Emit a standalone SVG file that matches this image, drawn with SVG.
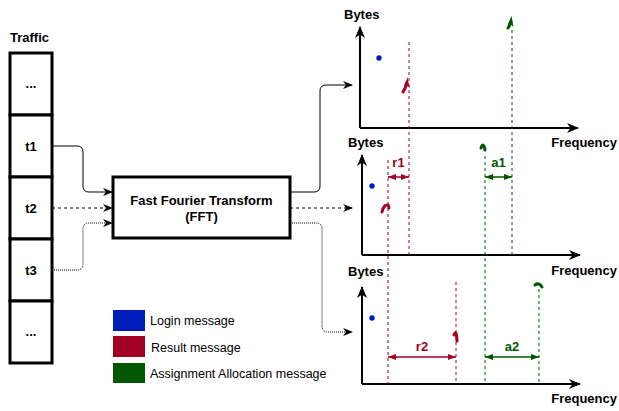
<svg xmlns="http://www.w3.org/2000/svg" width="619" height="411" viewBox="0 0 619 411">
  <defs>
    <style>
      text { font-family: "Liberation Sans", Arial, sans-serif; fill: #000; }
      .b { font-weight: bold; font-size: 13px; }
      .lg { font-size: 12.5px; }
      .cell { fill: #fff; stroke: #000; stroke-width: 3; }
      .conn { fill: none; stroke: #000; stroke-width: 1; }
      .dash { stroke-dasharray: 3 3; }
      .dot { stroke-dasharray: 1 1; }
      .axis { fill: none; stroke: #000; stroke-width: 2; }
      .red { stroke: #A20025; }
      .grn { stroke: #005700; }
      .guide { fill: none; stroke-width: 1; stroke-dasharray: 3 3; }
      .mark { fill: none; stroke-width: 3; stroke-linecap: round; stroke-linejoin: round; }
      .dim { fill: none; stroke-width: 1.5; }
      .rt { fill: #A20025; }
      .gt { fill: #005700; }
      .rtx { fill: #A20025; }
      .gtx { fill: #005700; }
      .login { fill: #001DBC; }
    </style>
    <marker id="arr" viewBox="0 0 10 8" refX="9" refY="4" markerWidth="10" markerHeight="8" markerUnits="userSpaceOnUse" orient="auto">
      <path d="M0,0 L10,4 L0,8 L3,4 z" fill="#000"/>
    </marker>
    <marker id="axArr" viewBox="0 0 12 10" refX="11" refY="5" markerWidth="12" markerHeight="10" markerUnits="userSpaceOnUse" orient="auto">
      <path d="M0,0 L12,5 L0,10 L3.5,5 z" fill="#000"/>
    </marker>
    <marker id="rArr" viewBox="0 0 8 6" refX="8" refY="3" markerWidth="8" markerHeight="6" markerUnits="userSpaceOnUse" orient="auto-start-reverse">
      <path d="M0,0 L8,3 L0,6 z" fill="#A20025"/>
    </marker>
    <marker id="gArr" viewBox="0 0 8 6" refX="8" refY="3" markerWidth="8" markerHeight="6" markerUnits="userSpaceOnUse" orient="auto-start-reverse">
      <path d="M0,0 L8,3 L0,6 z" fill="#005700"/>
    </marker>
  </defs>

  <rect width="619" height="411" fill="#fff"/>

  <!-- traffic column -->
  <g id="traffic">
    <text class="b" x="10" y="42">Traffic</text>
    <g id="cell-top">
      <rect class="cell" x="10" y="53" width="42" height="62"/>
      <text class="b" x="31" y="88" text-anchor="middle">...</text>
    </g>
    <g id="cell-t1">
      <rect class="cell" x="10" y="115" width="42" height="62"/>
      <text class="b" x="31" y="151" text-anchor="middle">t1</text>
    </g>
    <g id="cell-t2">
      <rect class="cell" x="10" y="177" width="42" height="62"/>
      <text class="b" x="31" y="213" text-anchor="middle">t2</text>
    </g>
    <g id="cell-t3">
      <rect class="cell" x="10" y="239" width="42" height="62"/>
      <text class="b" x="31" y="275" text-anchor="middle">t3</text>
    </g>
    <g id="cell-bottom">
      <rect class="cell" x="10" y="301" width="42" height="62"/>
      <text class="b" x="31" y="336" text-anchor="middle">...</text>
    </g>
  </g>

  <!-- FFT block -->
  <g id="fft">
    <rect x="113" y="177" width="177" height="61" fill="#fff" stroke="#000" stroke-width="3"/>
    <text class="b" x="201.5" y="205" text-anchor="middle">Fast Fourier Transform</text>
    <text class="b" x="201.5" y="221" text-anchor="middle">(FFT)</text>
  </g>

  <!-- connectors -->
  <g id="connectors">
    <path class="conn" d="M52,146 H77 Q83,146 83,152 V186 Q83,192 89,192 H112" marker-end="url(#arr)"/>
    <path class="conn dash" d="M52,208 H112" marker-end="url(#arr)"/>
    <path class="conn dot" d="M52,270 H77 Q83,270 83,264 V229 Q83,223 89,223 H112" marker-end="url(#arr)"/>
    <path class="conn" d="M290,192 H314 Q320,192 320,186 V91 Q320,85 326,85 H352" marker-end="url(#arr)"/>
    <path class="conn dash" d="M290,208 H352" marker-end="url(#arr)"/>
    <path class="conn dot" d="M290,223 H316 Q322,223 322,229 V326 Q322,332 328,332 H352" marker-end="url(#arr)"/>
  </g>

  <!-- spectrum plot 1 -->
  <g id="plot1">
    <path class="axis" d="M360,128 V27" marker-end="url(#axArr)"/>
    <path class="axis" d="M360,128 H578" marker-end="url(#axArr)"/>
    <text class="b" x="344" y="19">Bytes</text>
    <text class="b" x="617" y="147" text-anchor="end">Frequency</text>
    <circle class="login" cx="379" cy="58" r="2.7"/>
    <path class="mark red" d="M403,92 Q406,88 406.5,83"/>
    <path class="rt" d="M404,87 L407.5,77 L409.5,88 Q406.5,84 404,87 z"/>
    <path class="mark grn" d="M508,28 Q510,25 511,22"/>
    <path class="gt" d="M507.5,25 L511.5,16 L513.5,27 Q510.5,23 507.5,25 z"/>
  </g>

  <!-- spectrum plot 2 -->
  <g id="plot2">
    <path class="axis" d="M362,255 V155" marker-end="url(#axArr)"/>
    <path class="axis" d="M362,255 H580" marker-end="url(#axArr)"/>
    <text class="b" x="348" y="147">Bytes</text>
    <text class="b" x="617" y="275" text-anchor="end">Frequency</text>
    <circle class="login" cx="372" cy="186" r="2.7"/>
    <path class="mark red" d="M382,212 Q384,204 388,205 Q389,206 389,208"/>
    <path class="mark grn" d="M481,148 Q482,145 483,145 Q485,147 485,150"/>
    <path class="dim red" d="M388,177 H409" marker-start="url(#rArr)" marker-end="url(#rArr)"/>
    <text class="b rtx" x="398.5" y="167" text-anchor="middle">r1</text>
    <path class="dim grn" d="M485,177 H512" marker-start="url(#gArr)" marker-end="url(#gArr)"/>
    <text class="b gtx" x="498.5" y="167" text-anchor="middle">a1</text>
  </g>

  <!-- spectrum plot 3 -->
  <g id="plot3">
    <path class="axis" d="M362,384 V287" marker-end="url(#axArr)"/>
    <path class="axis" d="M362,384 H580" marker-end="url(#axArr)"/>
    <text class="b" x="348" y="276">Bytes</text>
    <text class="b" x="617" y="403" text-anchor="end">Frequency</text>
    <circle class="login" cx="372" cy="318" r="2.7"/>
    <path class="mark red" d="M454,335 Q455,332 456,333 Q457,337 457,341"/>
    <path class="mark grn" d="M535,285 Q539,282 542,287"/>
    <path class="dim red" d="M388,357 H456" marker-start="url(#rArr)" marker-end="url(#rArr)"/>
    <text class="b rtx" x="422" y="351" text-anchor="middle">r2</text>
    <path class="dim grn" d="M485,357 H539" marker-start="url(#gArr)" marker-end="url(#gArr)"/>
    <text class="b gtx" x="512" y="351" text-anchor="middle">a2</text>
  </g>

  <!-- frequency guides spanning plots -->
  <g id="guides">
    <path class="guide red" d="M409,42 V255"/>
    <path class="guide grn" d="M512,30 V255"/>
    <path class="guide red" d="M388,160 V384"/>
    <path class="guide grn" d="M485,156 V384"/>
    <path class="guide red" d="M456,282 V384"/>
    <path class="guide grn" d="M539,289 V384"/>
  </g>

  <!-- legend -->
  <g id="legend">
    <rect x="113" y="310" width="32" height="21" fill="#001DBC"/>
    <text class="lg" x="150" y="325">Login message</text>
    <rect x="113" y="336" width="32" height="21" fill="#A20025"/>
    <text class="lg" x="151" y="352">Result message</text>
    <rect x="113" y="363" width="32" height="20" fill="#005700"/>
    <text class="lg" x="150" y="378">Assignment Allocation message</text>
  </g>
</svg>
